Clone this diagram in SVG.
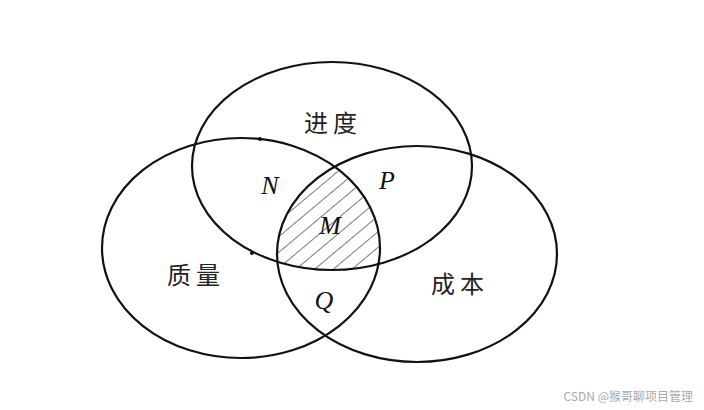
<svg xmlns="http://www.w3.org/2000/svg" width="704" height="410" viewBox="0 0 704 410">
<style>
.ring{fill:none;stroke:#111;stroke-width:2.2}
.zh{font-family:"Noto Sans CJK SC","Noto Sans CJK JP",sans-serif;font-size:24px;fill:#222;letter-spacing:5px}
.it{font-family:"Liberation Serif",serif;font-style:italic;font-size:26px;fill:#111}
.hatch{stroke:#222;stroke-width:1.2}
</style>
<defs>
<clipPath id="cTop"><ellipse cx="332" cy="166" rx="140" ry="104"/></clipPath>
<clipPath id="cLeft"><ellipse cx="241" cy="248" rx="139" ry="110"/></clipPath>
<clipPath id="cRight"><ellipse cx="417" cy="254" rx="140" ry="108"/></clipPath>
<pattern id="hp" patternUnits="userSpaceOnUse" width="12" height="12" patternTransform="rotate(-40)">
<line x1="0" y1="0" x2="12" y2="0" class="hatch"/>
</pattern>
</defs>
<rect width="704" height="410" fill="#fff"/>
<g id="hatched-M" clip-path="url(#cTop)">
<g clip-path="url(#cLeft)">
<rect x="200" y="100" width="300" height="250" fill="url(#hp)" clip-path="url(#cRight)"/>
</g>
</g>
<g id="set-progress"><ellipse class="ring" cx="332" cy="166" rx="140" ry="104"/><text class="zh" x="333" y="132" text-anchor="middle">进度</text></g>
<g id="set-quality"><ellipse class="ring" cx="241" cy="248" rx="139" ry="110"/><text class="zh" x="196" y="284" text-anchor="middle">质量</text></g>
<g id="set-cost"><ellipse class="ring" cx="417" cy="254" rx="140" ry="108"/><text class="zh" x="460" y="293" text-anchor="middle">成本</text></g>
<g id="dots"><circle cx="260" cy="139" r="2" fill="#111"/><circle cx="252" cy="253" r="2" fill="#111"/></g>
<g id="labels">
<text class="it" x="270" y="194" text-anchor="middle">N</text>
<text class="it" x="387" y="189" text-anchor="middle">P</text>
<text class="it" x="330" y="234" text-anchor="middle">M</text>
<text class="it" x="324" y="309" text-anchor="middle">Q</text>
</g>
<text x="693" y="401" text-anchor="end" font-family="'Noto Sans CJK SC',sans-serif" font-size="12" fill="#aaa">CSDN @猴哥聊项目管理</text>
</svg>
